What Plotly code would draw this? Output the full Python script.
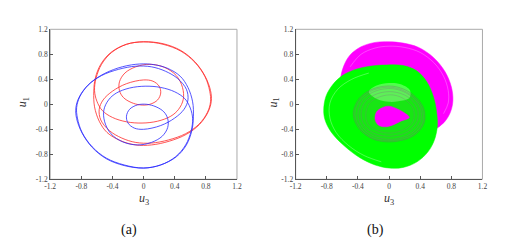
import plotly.graph_objects as go

# ---------------- data ----------------
# (a) periodic orbits, u3 (x) and u1 (y)
red_u3 = [0.00, 0.25, 0.48, 0.66, 0.79, 0.86, 0.87, 0.83, 0.72, 0.55, 0.33, 0.10, -0.10, -0.30, -0.47, -0.57, -0.63, -0.64, -0.62, -0.55, -0.42, -0.22,
          0.00, 0.25, 0.48, 0.66, 0.79, 0.85, 0.86, 0.82, 0.71, 0.54, 0.32, 0.10, -0.10, -0.28, -0.44, -0.55, -0.57, -0.52, -0.40, -0.22,
          0.00, 0.12, 0.20, 0.22, 0.18, 0.08, -0.04, -0.16, -0.26, -0.31, -0.31, -0.24, -0.10, 0.08, 0.27, 0.42, 0.50, 0.51, 0.45, 0.35,
          0.18, -0.02, -0.22, -0.40, -0.53, -0.60, -0.63, -0.61, -0.54, -0.41, -0.22, 0.00]
red_u1 = [1.00, 0.97, 0.86, 0.68, 0.45, 0.22, 0.05, -0.12, -0.32, -0.48, -0.59, -0.65, -0.65, -0.58, -0.45, -0.27, -0.04, 0.20, 0.42, 0.64, 0.83, 0.96,
          1.00, 0.96, 0.85, 0.67, 0.44, 0.21, 0.04, -0.13, -0.32, -0.47, -0.57, -0.62, -0.61, -0.54, -0.42, -0.25, -0.08, 0.07, 0.21, 0.33,
          0.39, 0.37, 0.29, 0.18, 0.07, 0.00, -0.01, 0.03, 0.11, 0.22, 0.36, 0.50, 0.60, 0.64, 0.59, 0.46, 0.27, 0.08, -0.08, -0.19,
          -0.27, -0.30, -0.28, -0.21, -0.10, 0.05, 0.22, 0.42, 0.64, 0.83, 0.96, 1.00]

blue_u3 = [0.00, -0.25, -0.48, -0.66, -0.79, -0.86, -0.87, -0.83, -0.72, -0.55, -0.33, -0.10, 0.10, 0.30, 0.47, 0.57, 0.63, 0.64, 0.62, 0.55, 0.42, 0.22,
           0.00, -0.25, -0.48, -0.66, -0.79, -0.85, -0.86, -0.82, -0.71, -0.54, -0.32, -0.10, 0.10, 0.28, 0.44, 0.55, 0.57, 0.52, 0.40, 0.22,
           0.00, -0.12, -0.20, -0.22, -0.18, -0.08, 0.04, 0.16, 0.26, 0.31, 0.31, 0.24, 0.10, -0.08, -0.27, -0.42, -0.50, -0.51, -0.45, -0.35,
           -0.18, 0.02, 0.22, 0.40, 0.53, 0.60, 0.63, 0.61, 0.54, 0.41, 0.22, 0.00]
blue_u1 = [-1.02, -0.98, -0.87, -0.69, -0.46, -0.23, -0.06, 0.11, 0.30, 0.46, 0.58, 0.64, 0.64, 0.58, 0.45, 0.27, 0.04, -0.20, -0.42, -0.65, -0.84, -0.97,
           -1.02, -0.97, -0.86, -0.68, -0.45, -0.22, -0.05, 0.12, 0.31, 0.46, 0.56, 0.61, 0.60, 0.53, 0.41, 0.24, 0.07, -0.08, -0.22, -0.34,
           -0.40, -0.38, -0.30, -0.19, -0.08, -0.01, 0.00, -0.04, -0.12, -0.23, -0.37, -0.51, -0.61, -0.65, -0.60, -0.47, -0.28, -0.09, 0.07, 0.18,
           0.26, 0.29, 0.27, 0.20, 0.09, -0.06, -0.23, -0.43, -0.65, -0.84, -0.97, -1.02]

# (b) chaotic attractors: region outlines and a few visible strands
mag_u3 = [-0.62, -0.58, -0.50, -0.36, -0.18, 0.00, 0.18, 0.38, 0.57, 0.72, 0.80, 0.82, 0.79, 0.72, 0.62, 0.45, 0.10, -0.30, -0.55, -0.63]
mag_u1 = [0.44, 0.62, 0.79, 0.92, 0.99, 1.00, 0.98, 0.91, 0.75, 0.52, 0.28, 0.06, -0.12, -0.27, -0.38, -0.50, -0.60, -0.50, -0.20, 0.20]

green_u3 = [-0.84, -0.81, -0.72, -0.60, -0.45, -0.25, -0.03, 0.18, 0.35, 0.48, 0.57, 0.61, 0.62, 0.58, 0.50, 0.36, 0.18, 0.00, -0.18, -0.38, -0.58, -0.74, -0.82]
green_u1 = [-0.10, 0.13, 0.32, 0.46, 0.55, 0.61, 0.63, 0.62, 0.54, 0.37, 0.12, -0.12, -0.35, -0.58, -0.76, -0.92, -1.01, -1.02, -0.97, -0.85, -0.66, -0.45, -0.26]

blob_u3 = [-0.18, -0.16, -0.08, 0.00, 0.10, 0.19, 0.26, 0.15, 0.05, -0.05, -0.14]
blob_u1 = [-0.24, -0.12, -0.05, -0.03, -0.07, -0.13, -0.21, -0.27, -0.33, -0.36, -0.33]

patch_u3 = [-0.26, -0.16, 0.00, 0.15, 0.27, 0.26, 0.12, 0.00, -0.15]
patch_u1 = [0.20, 0.30, 0.34, 0.32, 0.22, 0.10, 0.05, 0.04, 0.08]

ring1_u3 = [-0.46, -0.38, -0.20, 0.05, 0.28, 0.44, 0.45, 0.32, 0.05, -0.20, -0.38]
ring1_u1 = [-0.15, 0.10, 0.25, 0.29, 0.18, -0.05, -0.30, -0.50, -0.60, -0.56, -0.40]
ring2_u3 = [-0.36, -0.30, -0.15, 0.05, 0.24, 0.36, 0.36, 0.24, 0.02, -0.18, -0.31, -0.36]
ring2_u1 = [-0.15, 0.05, 0.17, 0.20, 0.12, -0.05, -0.27, -0.44, -0.51, -0.47, -0.35, -0.15]
ring3_u3 = [-0.40, -0.34, -0.18, 0.05, 0.26, 0.40, 0.40, 0.28, 0.04, -0.19, -0.34, -0.40]
ring3_u1 = [-0.16, 0.07, 0.21, 0.25, 0.15, -0.05, -0.29, -0.47, -0.56, -0.51, -0.37, -0.16]
ring4_u3 = [-0.30, -0.25, -0.12, 0.05, 0.20, 0.31, 0.31, 0.20, 0.02, -0.16, -0.27, -0.30]
ring4_u1 = [-0.16, 0.02, 0.12, 0.15, 0.08, -0.07, -0.27, -0.40, -0.46, -0.42, -0.32, -0.16]
ring5_u3 = [-0.44, -0.37, -0.20, 0.05, 0.27, 0.42, 0.43, 0.30, 0.05, -0.20, -0.36, -0.44]
ring5_u1 = [-0.16, 0.08, 0.23, 0.27, 0.16, -0.05, -0.30, -0.49, -0.58, -0.54, -0.39, -0.16]

stripe_m_u3 = [-0.50, -0.36, -0.18, 0.00, 0.20, 0.40, 0.58, 0.70, 0.76, 0.76, 0.70]
stripe_m_u1 = [0.60, 0.80, 0.90, 0.93, 0.91, 0.83, 0.66, 0.45, 0.22, 0.02, -0.15]
stripe_g_u3 = [-0.10, -0.32, -0.52, -0.68, -0.76, -0.76, -0.66, -0.48, -0.26]
stripe_g_u1 = [-0.92, -0.82, -0.66, -0.45, -0.22, 0.02, 0.24, 0.40, 0.50]

ticks = [-1.2, -0.8, -0.4, 0, 0.4, 0.8, 1.2]
tick_text = ["-1.2", "-0.8", "-0.4", "0", "0.4", "0.8", "1.2"]

# ---------------- figure ----------------
SERIF = "Liberation Serif, DejaVu Serif, serif"
W, H = 500, 234
fig = go.Figure()

fig.add_trace(go.Scatter(x=red_u3, y=red_u1, mode="lines", line=dict(color="#ff2a2a", width=0.8, shape="spline", smoothing=1.0),
                         xaxis="x", yaxis="y", showlegend=False, hoverinfo="skip"))
fig.add_trace(go.Scatter(x=blue_u3, y=blue_u1, mode="lines", line=dict(color="#2a2aff", width=0.8, shape="spline", smoothing=1.0),
                         xaxis="x", yaxis="y", showlegend=False, hoverinfo="skip"))

def region(xs, ys, color, lw=0.5):
    fig.add_trace(go.Scatter(x=xs + xs[:1], y=ys + ys[:1], mode="lines", fill="toself", fillcolor=color,
                             line=dict(color=color, width=lw, shape="spline", smoothing=1.0),
                             xaxis="x2", yaxis="y2", showlegend=False, hoverinfo="skip"))

def strand(xs, ys, color, w):
    fig.add_trace(go.Scatter(x=xs, y=ys, mode="lines", line=dict(color=color, width=w, shape="spline", smoothing=1.0),
                             xaxis="x2", yaxis="y2", showlegend=False, hoverinfo="skip"))

region(mag_u3, mag_u1, "#ff00ff")
strand(stripe_m_u3, stripe_m_u1, "rgba(255,255,255,0.45)", 0.6)
region(green_u3, green_u1, "#00ff00")
region(ring1_u3, ring1_u1, "rgba(110,140,90,0.22)", 0)
region(patch_u3, patch_u1, "rgba(225,255,215,0.35)", 0)
strand(ring1_u3 + ring1_u3[:1], ring1_u1 + ring1_u1[:1], "rgba(110,110,110,0.55)", 0.7)
strand(ring5_u3, ring5_u1, "rgba(120,120,120,0.5)", 0.7)
strand(ring3_u3, ring3_u1, "rgba(120,120,120,0.5)", 0.7)
strand(ring2_u3, ring2_u1, "rgba(120,120,120,0.5)", 0.7)
strand(ring4_u3, ring4_u1, "rgba(120,120,120,0.45)", 0.7)
strand(stripe_g_u3, stripe_g_u1, "rgba(255,255,255,0.5)", 0.6)
region(blob_u3, blob_u1, "#ff00ff")

ax_common = dict(range=[-1.2, 1.2], tickvals=ticks, ticktext=tick_text, ticks="inside", ticklen=3, tickwidth=1,
                 tickcolor="#555", showline=True, linecolor="#555", linewidth=1, mirror=False,
                 showgrid=False, zeroline=False, tickfont=dict(family=SERIF, size=7.5, color="#444"), fixedrange=True)

# pixel positions below are page pixels minus the 8px page margin
fig.update_layout(
    width=W, height=H, margin=dict(l=0, r=0, t=0, b=0),
    paper_bgcolor="white", plot_bgcolor="white",
    xaxis=dict(domain=[37 / W, 228 / W], anchor="y", **ax_common),
    yaxis=dict(domain=[60 / H, 216 / H], anchor="x", **ax_common),
    xaxis2=dict(domain=[288 / W, 479 / W], anchor="y2", **ax_common),
    yaxis2=dict(domain=[60 / H, 216 / H], anchor="x2", **ax_common),
    shapes=[
        dict(type="rect", xref="x domain", yref="y domain", x0=0, x1=1, y0=0, y1=1, line=dict(color="#aaa", width=1), layer="below"),
        dict(type="rect", xref="x2 domain", yref="y2 domain", x0=0, x1=1, y0=0, y1=1, line=dict(color="#aaa", width=1), layer="below"),
    ],
)

ann = []
for cx in (132.5, 383.5):
    ann.append(dict(x=cx / W, y=(H - 194) / H, xref="paper", yref="paper", text="<i>u</i><sub>3</sub>", showarrow=False,
                    font=dict(family=SERIF, size=12, color="#333"), xanchor="center", yanchor="middle"))
for cx in (10, 266):
    ann.append(dict(x=cx / W, y=(H - 94) / H, xref="paper", yref="paper", text="<i>u</i><sub>1</sub>", showarrow=False,
                    textangle=-90, font=dict(family=SERIF, size=12, color="#333"), xanchor="center", yanchor="middle"))
ann.append(dict(x=118 / W, y=(H - 227) / H, xref="paper", yref="paper", text="(a)", showarrow=False,
                font=dict(family=SERIF, size=14, color="#111"), xanchor="center", yanchor="middle"))
ann.append(dict(x=370 / W, y=(H - 227) / H, xref="paper", yref="paper", text="(b)", showarrow=False,
                font=dict(family=SERIF, size=14, color="#111"), xanchor="center", yanchor="middle"))
fig.update_layout(annotations=ann)

fig.write_html("out.html")
